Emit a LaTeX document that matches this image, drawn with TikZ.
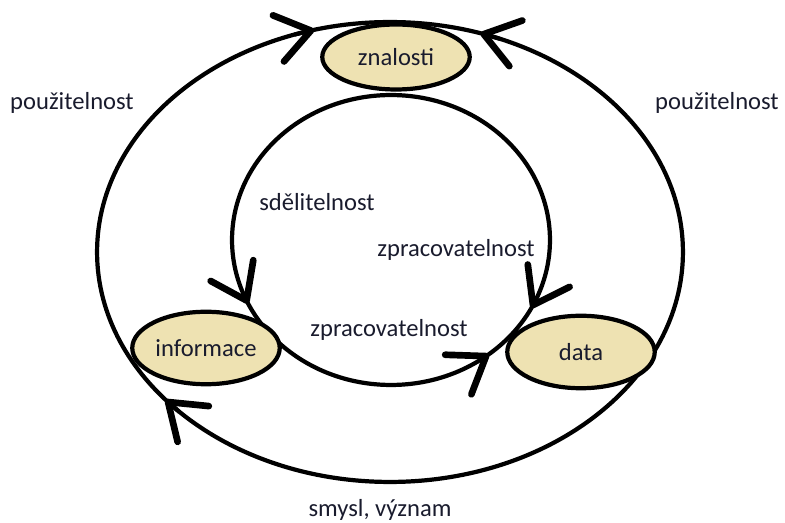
\documentclass[tikz,border=0pt]{standalone}
\usepackage{fontspec}
\setmainfont{Carlito}
\usetikzlibrary{shapes.geometric,arrows.meta,calc}
\definecolor{bubblefill}{RGB}{238,226,178}
\definecolor{ink}{RGB}{25,27,45}
\tikzset{
  ring/.style={line width=2.4pt},
  bubble/.style={ellipse, draw, line width=2.4pt, fill=bubblefill, text=ink, inner sep=0pt,
    minimum width=2.95cm, minimum height=1.45cm, font=\fontsize{14}{17}\selectfont},
  lbl/.style={text=ink, font=\fontsize{14}{17}\selectfont},
  barb/.style={-{Straight Barb[length=19pt,width=27pt,line width=3.8pt,round]}, line width=2.4pt}
}
\begin{document}
\begin{tikzpicture}[x=0.02cm, y=-0.02cm]
\useasboundingbox (0,0) rectangle (785,523);
\coordinate (oc) at (390,252);
\coordinate (ic) at (391,240);

% the two rings
\draw[ring] (oc) ellipse [x radius=5.86cm, y radius=4.6cm];
\draw[ring] (ic) ellipse [x radius=3.18cm, y radius=2.9cm];

% arrow marks on the outer ring
\draw[barb] ($(oc)+(251:293 and 230)$) -- ($(oc)+(255:293 and 230)$);
\draw[barb] ($(oc)+(292:293 and 230)$) -- ($(oc)+(288:293 and 230)$);
\draw[barb] ($(oc)+(136:293 and 230)$) -- ($(oc)+(140:293 and 230)$);
% arrow marks on the inner ring
\draw[barb] ($(ic)+(158:159 and 145)$) -- ($(ic)+(154:159 and 145)$);
\draw[barb] ($(ic)+(56:159 and 145)$) -- ($(ic)+(52:159 and 145)$);
\draw[barb] ($(ic)+(24:159 and 145)$) -- ($(ic)+(28:159 and 145)$);

\node[bubble, minimum height=1.3cm] (znalosti) at (396,57) {znalosti};
\node[bubble] (informace) at (206,348) {informace};
\node[bubble] (data) at (581,352) {data};

\node[lbl] (pouzL) at (72,103) {použitelnost};
\node[lbl] (pouzR) at (717,103) {použitelnost};
\node[lbl] (sdel) at (317,202) {sdělitelnost};
\node[lbl] (zprac1) at (456,250) {zpracovatelnost};
\node[lbl] (zprac2) at (389,330) {zpracovatelnost};
\node[lbl] (smysl) at (380,510) {smysl, význam};
\end{tikzpicture}
\end{document}
